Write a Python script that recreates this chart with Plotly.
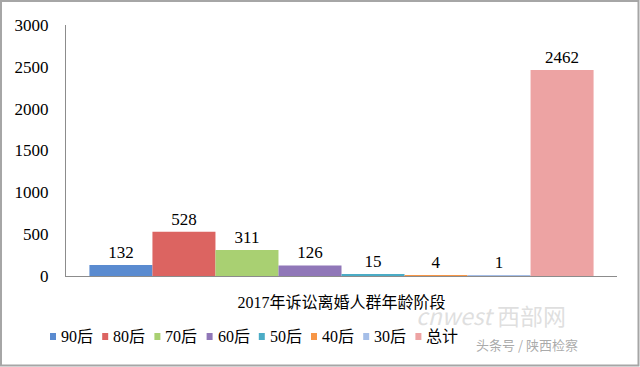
import plotly.graph_objects as go

category = ["2017年诉讼离婚人群年龄阶段"]
series_names = ["90后", "80后", "70后", "60后", "50后", "40后", "30后", "总计"]
series_values = [132, 528, 311, 126, 15, 4, 1, 2462]
colors = ["#5A8BD0", "#DC6461", "#A9D072", "#9077B8", "#4BACC6", "#F79646", "#A5BEE8", "#EDA3A3"]
y_ticks = [0, 500, 1000, 1500, 2000, 2500, 3000]

W, H = 640, 367
L, R, T, B = 66, 23, 25, 91
pw, ph = W - L - R, H - T - B

def px_x(p):
    return (p - L) / pw

def px_y(p):
    return (H - B - p) / ph

fig = go.Figure()
for name, val, col in zip(series_names, series_values, colors):
    fig.add_trace(go.Bar(
        x=category, y=[val], name=name,
        marker=dict(color=col, line=dict(width=0)),
        text=[str(val)], textposition="outside",
        textfont=dict(family="Liberation Serif", size=17, color="#000000"),
        cliponaxis=False, showlegend=False,
    ))

# legend drawn manually (small squares + labels) to match the reference spacing
shapes = [dict(
    type="rect", xref="paper", yref="paper",
    x0=px_x(1), x1=px_x(638.5), y0=px_y(365.5), y1=px_y(1),
    line=dict(color="#A6A6A6", width=2), fillcolor="rgba(0,0,0,0)", layer="below",
)]
annotations = []
leg_x0, leg_pitch, leg_y = 50, 52.2, 336
for i, (name, col) in enumerate(zip(series_names, colors)):
    sx = leg_x0 + i * leg_pitch
    shapes.append(dict(
        type="rect", xref="paper", yref="paper",
        x0=px_x(sx), x1=px_x(sx + 6), y0=px_y(leg_y + 4), y1=px_y(leg_y - 3),
        line=dict(width=0), fillcolor=col,
    ))
    annotations.append(dict(
        text=name, xref="paper", yref="paper", x=px_x(sx + 9), y=px_y(leg_y),
        xanchor="left", yanchor="middle", showarrow=False,
        font=dict(family="Liberation Serif, Noto Sans CJK SC", size=16, color="#000000"),
    ))

annotations += [
    dict(text="<i>cnwest</i> 西部网", xref="paper", yref="paper", x=px_x(568), y=px_y(334),
         showarrow=False, font=dict(family="Noto Sans CJK SC", size=23, color="rgba(215,215,215,0.8)")),
    dict(text="头条号 / 陕西检察", xref="paper", yref="paper", x=px_x(580), y=px_y(356),
         showarrow=False, font=dict(family="Noto Sans CJK SC", size=13, color="rgba(165,165,165,0.95)")),
]

fig.update_layout(
    width=W, height=H,
    margin=dict(l=L, r=R, t=T, b=B, autoexpand=False),
    paper_bgcolor="white", plot_bgcolor="white",
    barmode="group", bargap=0.085, bargroupgap=0,
    showlegend=False,
    font=dict(family="Liberation Serif, Noto Sans CJK SC", color="#000000"),
    xaxis=dict(
        showline=True, linecolor="#8C8C8C", linewidth=1,
        tickfont=dict(family="Liberation Serif, Noto Sans CJK SC", size=16, color="#000000"),
        ticks="", showgrid=False, automargin=False, ticklabelstandoff=12,
    ),
    yaxis=dict(
        range=[0, 3000], tickvals=y_ticks,
        showline=True, linecolor="#8C8C8C", linewidth=1,
        showgrid=False, zeroline=False, ticks="",
        tickfont=dict(family="Liberation Serif", size=17, color="#000000"),
        ticklabelstandoff=13, automargin=False,
    ),
    shapes=shapes,
    annotations=annotations,
)

fig.write_html(
    "out.html",
    config={"displayModeBar": False},
    post_script="document.body.style.margin='0';document.body.style.overflow='hidden';",
)
